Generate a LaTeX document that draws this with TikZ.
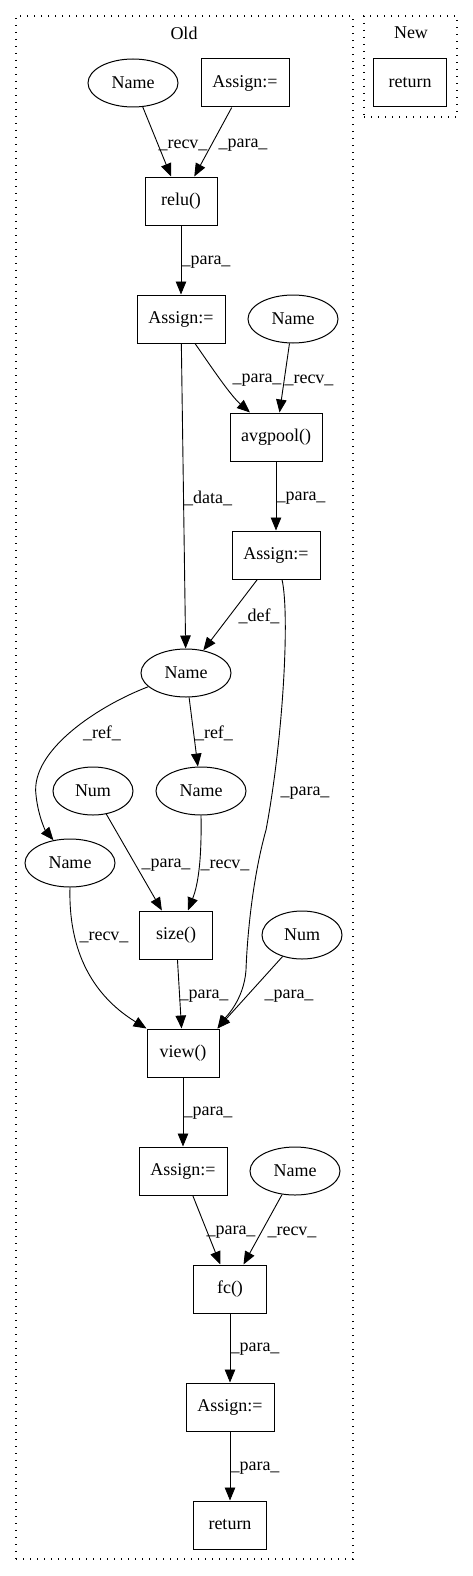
\documentclass[tikz,border=0pt]{standalone}
\usepackage{fontspec}
\setmainfont{Liberation Serif}
\usetikzlibrary{arrows.meta,shapes.geometric}
\newcommand\gvfont{\fontsize{18pt}{21pt}\selectfont}
\begin{document}
\begin{tikzpicture}[x=1pt,y=-1pt,
 box/.style={draw,line width=1pt,rectangle,minimum height=48pt,inner sep=0pt,font=\gvfont},
 oval/.style={draw,line width=1pt,ellipse,minimum height=48pt,inner sep=0pt,font=\gvfont},
 lbl/.style={font=\gvfont,inner sep=0pt},
 edge/.style={line width=0.9pt,-{Triangle[length=13pt,width=10.5pt]}},
 cluster/.style={draw,line width=1.2pt,dash pattern=on 1.4pt off 5.6pt,rectangle,inner sep=0pt}]
\useasboundingbox (0,0) rectangle (473,1576);
% clusters
\node[cluster,minimum width=337pt,minimum height=1543pt] (old) at (184.5,787.5) {};
\node[cluster,minimum width=93pt,minimum height=101pt] (new) at (410.5,66.5) {};
\node[lbl] (oldlbl) at (184,33) {Old};
\node[lbl] (newlbl) at (411,33) {New};
% nodes
\node[oval,minimum width=90pt] (n1) at (133,83) {Name};
\node[box,minimum width=88pt] (a1) at (245,83) {Assign:=};
\node[box,minimum width=72pt] (relu) at (181,201) {relu()};
\node[box,minimum width=88pt] (a2) at (181,319) {Assign:=};
\node[oval,minimum width=90pt] (n2) at (293,319) {Name};
\node[box,minimum width=92pt] (avg) at (276,437) {avgpool()};
\node[box,minimum width=88pt] (a3) at (276,555) {Assign:=};
\node[oval,minimum width=90pt] (n3) at (186,673) {Name};
\node[oval,minimum width=80pt] (num1) at (93,791) {Num};
\node[oval,minimum width=90pt] (n4) at (201,791) {Name};
\node[oval,minimum width=90pt] (n5) at (70,863) {Name};
\node[box,minimum width=73pt] (size) at (176,935) {size()};
\node[oval,minimum width=80pt] (num2) at (302,935) {Num};
\node[box,minimum width=72pt] (view) at (183,1053) {view()};
\node[box,minimum width=88pt] (a4) at (183,1171) {Assign:=};
\node[oval,minimum width=90pt] (n6) at (295,1171) {Name};
\node[box,minimum width=73pt] (fc) at (230,1289) {fc()};
\node[box,minimum width=88pt] (a5) at (230,1407) {Assign:=};
\node[box,minimum width=73pt] (ret) at (230,1525) {return};
\node[box,minimum width=73pt] (ret2) at (410,83) {return};
% edges
\draw[edge] (n1) -- (relu);
\draw[edge] (a1) -- (relu);
\draw[edge] (relu) -- (a2);
\draw[edge] ([xshift=14pt]a2.south) .. controls (210,365) and (230,395) .. ([xshift=-26pt]avg.north);
\draw[edge] (n2) -- (avg);
\draw[edge] (a2) -- (n3);
\draw[edge] (avg) -- (a3);
\draw[edge] (a3) -- (n3);
\draw[edge] ([xshift=6pt]a3.south) .. controls (290,615) and (283,740) .. (266,830) .. controls (252,880) and (247,940) .. (246,970) .. controls (244,1000) and (225,1018) .. ([xshift=-2pt]view.north east);
\draw[edge] (n3.200) .. controls (100,705) and (30,750) .. (36,795) .. controls (38,815) and (45,830) .. (n5.126);
\draw[edge] (n3) -- (n4);
\draw[edge] (n5.south) .. controls (68,960) and (100,1000) .. (view.north west);
\draw[edge] (num1) -- (size);
\draw[edge] (n4.south) .. controls (202,870) and (196,890) .. ([xshift=12pt]size.north);
\draw[edge] (size) -- (view);
\draw[edge] (num2) -- ([xshift=-2pt]view.north east);
\draw[edge] (view) -- (a4);
\draw[edge] (a4) -- (fc);
\draw[edge] (n6) -- (fc);
\draw[edge] (fc) -- (a5);
\draw[edge] (a5) -- (ret);
% edge labels
\node[lbl] (l1) at (183,145) {\_recv\_};
\node[lbl] (l2) at (243,145) {\_para\_};
\node[lbl] (l3) at (206,262) {\_para\_};
\node[lbl] (l4) at (257,380) {\_para\_};
\node[lbl] (l5) at (309,380) {\_recv\_};
\node[lbl] (l6) at (208,498) {\_data\_};
\node[lbl] (l7) at (301,498) {\_para\_};
\node[lbl] (l8) at (259,616) {\_def\_};
\node[lbl] (l9) at (305,793) {\_para\_};
\node[lbl] (l10) at (102,733) {\_ref\_};
\node[lbl] (l11) at (214,733) {\_ref\_};
\node[lbl] (l12) at (166,865) {\_para\_};
\node[lbl] (l13) at (225,865) {\_recv\_};
\node[lbl] (l14) at (104,937) {\_recv\_};
\node[lbl] (l15) at (204,996) {\_para\_};
\node[lbl] (l16) at (289,996) {\_para\_};
\node[lbl] (l17) at (208,1113) {\_para\_};
\node[lbl] (l18) at (231,1232) {\_para\_};
\node[lbl] (l19) at (292,1232) {\_recv\_};
\node[lbl] (l20) at (255,1349) {\_para\_};
\node[lbl] (l21) at (255,1468) {\_para\_};
\end{tikzpicture}
\end{document}
